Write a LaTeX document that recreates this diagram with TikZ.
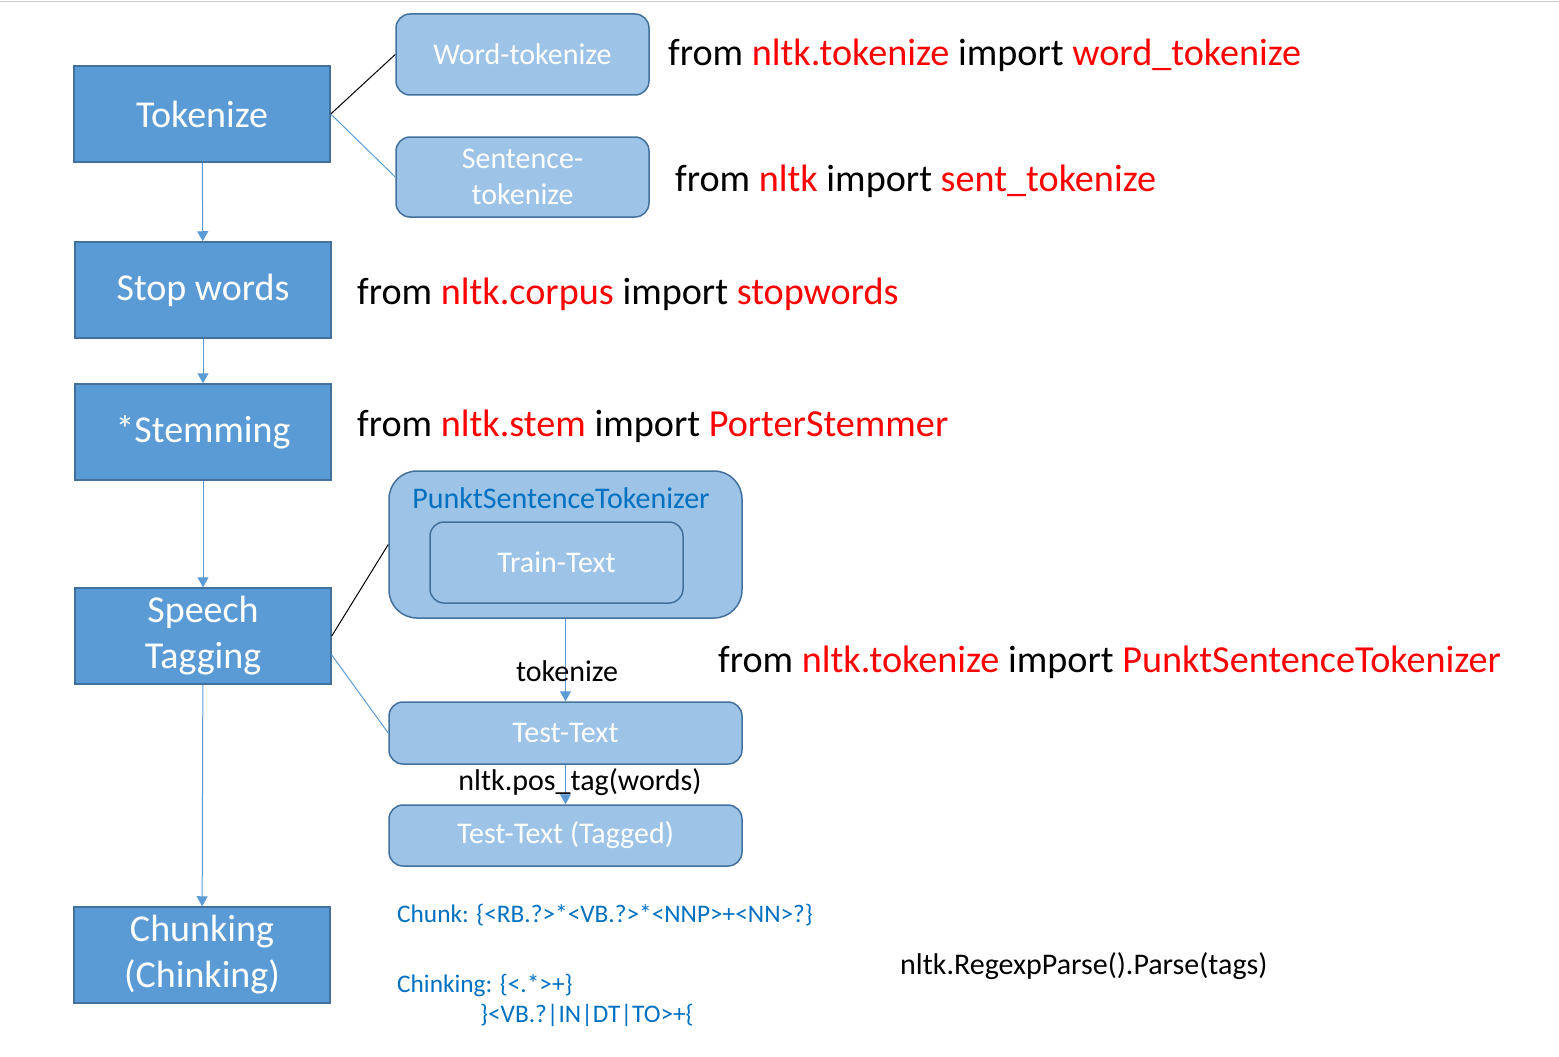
\documentclass[tikz,border=0pt]{standalone}
\usepackage{fontspec}
\setmainfont{Carlito}
\usetikzlibrary{arrows.meta}
\definecolor{boxblue}{HTML}{5B9BD5}
\definecolor{boxedge}{HTML}{41719C}
\definecolor{lightblue}{HTML}{9DC3E6}
\definecolor{codeblue}{HTML}{0070C0}
\definecolor{codered}{HTML}{FF0000}
\newcommand{\red}[1]{\textcolor{codered}{#1}}
\begin{document}
\begin{tikzpicture}[x=1pt, y=-1pt,
    stage/.style={draw=boxedge, line width=1.5pt, fill=boxblue, text=white, inner sep=0pt,
      minimum width=256pt, minimum height=96pt, align=center, font=\fontsize{38}{46}\selectfont},
    subbox/.style={draw=boxedge, line width=1.5pt, fill=lightblue, text=white, inner sep=0pt,
      rounded corners=14pt, align=center, font=\fontsize{30}{36}\selectfont},
    code/.style={anchor=base west, inner sep=0pt, font=\fontsize{38.2}{44}\selectfont},
    small/.style={anchor=base west, inner sep=0pt, text=codeblue, font=\fontsize{25.3}{30}\selectfont},
    flow/.style={draw=boxblue, line width=1pt, -{Triangle[length=10pt, width=11pt]}}]
  \useasboundingbox (0,0) rectangle (1559,1057);
  % Paths, nodes and wires:
  \draw[black!20, line width=1.5pt] (0,1.5) -- (1559,1.5);
  \node[stage](tok) at (202,114){Tokenize};
  \node[stage](stop) at (203,290){Stop words};
  \node[stage](stem) at (203,432){*Stemming};
  \node[stage](speech) at (203,636){Speech\\Tagging};
  \node[stage](chunk) at (202,955){Chunking\\(Chinking)};
  \node[subbox, minimum width=253pt, minimum height=81pt](word) at (522.5,54.5){Word-tokenize};
  \node[subbox, minimum width=253pt, minimum height=80pt](sent) at (522.5,177){Sentence-\\tokenize};
  \node[subbox, minimum width=353pt, minimum height=147pt, rounded corners=28pt](punkt) at (565.5,544.5){};
  \node[anchor=center, text=codeblue, font=\fontsize{30}{34}\selectfont](punktname) at (561,498){PunktSentenceTokenizer};
  \node[subbox, minimum width=253pt, minimum height=81pt](train) at (556.5,562.5){Train-Text};
  \node[subbox, minimum width=353pt, minimum height=62pt](test) at (565.5,733){Test-Text};
  \node[subbox, minimum width=353pt, minimum height=61pt](tagged) at (565.5,835.5){Test-Text (Tagged)};
  \draw[black, line width=1pt] (tok.east) -- (word.west);
  \draw[boxblue, line width=1pt] (tok.east) -- (sent.west);
  \draw[black, line width=1pt] (speech.east) -- (punkt.west);
  \draw[boxblue, line width=1pt] ([yshift=-19pt]speech.east) -- (test.west);
  \draw[flow] (tok) -- (stop);
  \draw[flow] (stop) -- (stem);
  \draw[flow] (stem) -- (speech);
  \draw[flow] (speech) -- (chunk);
  \draw[flow] (punkt) -- (test);
  \draw[flow] (test) -- (tagged);
  \node[anchor=base, inner sep=0pt, font=\fontsize{30}{34}\selectfont](tokl) at (567,681){tokenize};
  \node[anchor=base, inner sep=0pt, font=\fontsize{30}{34}\selectfont](posl) at (580,790){nltk.pos\_tag(words)};
  \node[code](imp1) at (668,66){from \red{nltk.tokenize} import \red{word\_tokenize}};
  \node[code](imp2) at (675,191){from \red{nltk} import \red{sent\_tokenize}};
  \node[code](imp3) at (357,304){from \red{nltk.corpus} import \red{stopwords}};
  \node[code](imp4) at (357,436){from \red{nltk.stem} import \red{PorterStemmer}};
  \node[code](imp5) at (718,672){from \red{nltk.tokenize} import \red{PunktSentenceTokenizer}};
  \node[small](chunkrule) at (397,922){Chunk: \{<RB.?>*<VB.?>*<NNP>+<NN>?\}};
  \node[small](chinkrule) at (397,992){Chinking: \{<.*>+\}};
  \node[small](chinkrest) at (480,1022){\}<VB.?|IN|DT|TO>+\{};
  \node[anchor=base west, inner sep=0pt, font=\fontsize{30}{34}\selectfont](parser) at (900,974){nltk.RegexpParse().Parse(tags)};
\end{tikzpicture}
\end{document}
